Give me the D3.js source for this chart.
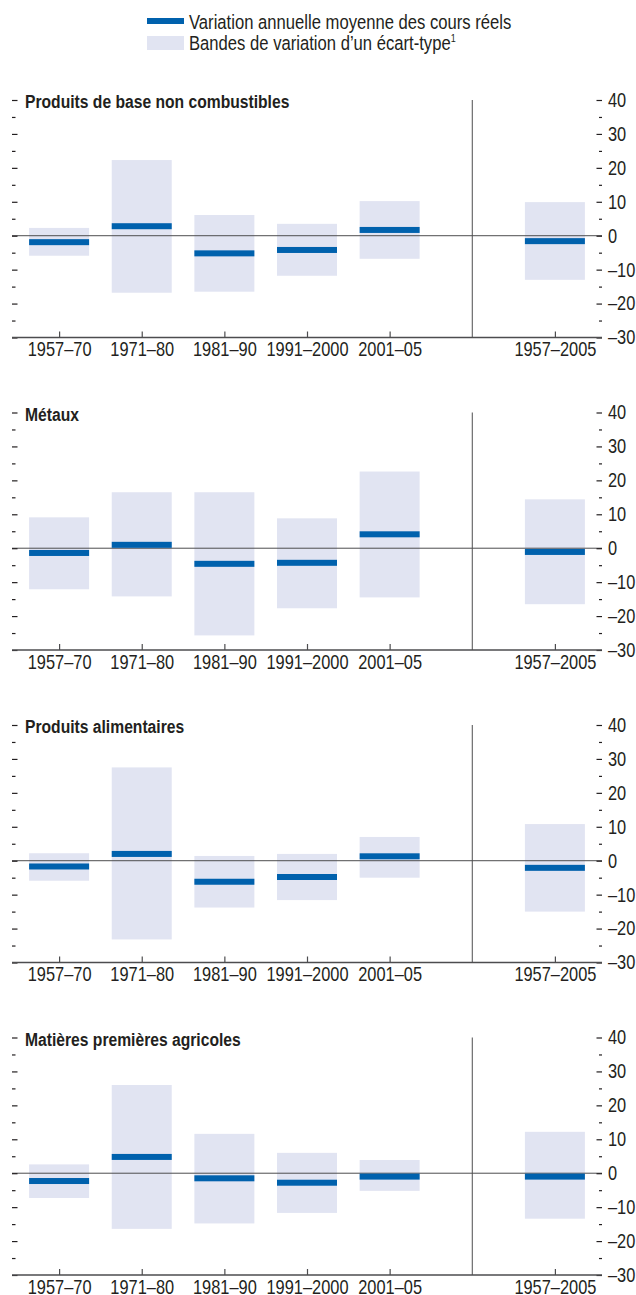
<!DOCTYPE html>
<html>
<head>
<meta charset="utf-8">
<script src="https://cdn.jsdelivr.net/npm/d3@7"></script>
<style>
  body { margin: 0; background: #fff; }
  svg { display: block; }
  text { font-family: "Liberation Sans", Arial, sans-serif; fill: #231f20; }
</style>
</head>
<body>
<svg id="chart" width="636" height="1295"></svg>
<script>
// ---- Data ----
const periods = ["1957–70", "1971–80", "1981–90", "1991–2000", "2001–05", "1957–2005"];
const slots = ["1957–70", "1971–80", "1981–90", "1991–2000", "2001–05", "sep", "1957–2005"];
const panelTitles = ["Produits de base non combustibles", "Métaux", "Produits alimentaires", "Matières premières agricoles"];

const meanNonFuel = [-1.9, 2.8, -5.2, -4.2, 1.7, -1.6];
const highNonFuel = [2.3, 22.3, 6.1, 3.5, 10.2, 9.9];
const lowNonFuel  = [-5.9, -16.8, -16.5, -11.8, -6.8, -13.0];

const meanMetals = [-1.4, 1.0, -4.6, -4.3, 4.1, -1.1];
const highMetals = [9.1, 16.5, 16.5, 8.8, 22.6, 14.4];
const lowMetals  = [-12.1, -14.2, -25.7, -17.7, -14.5, -16.5];

const meanFood = [-1.7, 2.0, -6.2, -4.8, 1.3, -2.1];
const highFood = [2.2, 27.5, 1.4, 2.0, 7.0, 10.8];
const lowFood  = [-5.9, -23.2, -13.8, -11.6, -5.0, -15.0];

const meanAgri = [-2.3, 4.8, -1.5, -2.8, -1.0, -1.0];
const highAgri = [2.6, 26.0, 11.6, 6.0, 3.9, 12.2];
const lowAgri  = [-7.3, -16.4, -14.8, -11.7, -5.2, -13.4];

const yMajorTicks = [40, 30, 20, 10, 0, -10, -20, -30];
const yMinorTicks = [35, 25, 15, 5, -5, -15, -25];
const yDomain = [-30, 40];

const legendLabels = ["Variation annuelle moyenne des cours réels", "Bandes de variation d’un écart-type"];

const panels = [
  { title: panelTitles[0], mean: meanNonFuel, high: highNonFuel, low: lowNonFuel },
  { title: panelTitles[1], mean: meanMetals, high: highMetals, low: lowMetals },
  { title: panelTitles[2], mean: meanFood, high: highFood, low: lowFood },
  { title: panelTitles[3], mean: meanAgri, high: highAgri, low: lowAgri }
];

// ---- Layout ----
const BLUE = "#0061ad";
const BAND = "#e1e4f2";
const AXIS = "#4d4d4f";
const NARROW = 0.82;
const svg = d3.select("#chart");

const x0 = 12, x1 = 602;
const firstTop = 100, panelStep = 312.5, panelH = 237.5;
const boxW = 60, barH = 6;

const x = d3.scalePoint().domain(slots).range([x0, x1]).padding(0.57);

// condense text horizontally (narrow face emulation)
function narrow(sel, sx) {
  sel.each(function () {
    const t = d3.select(this);
    const tx = +t.attr("x") || 0, ty = +t.attr("y") || 0;
    t.attr("x", 0).attr("y", 0).attr("transform", `translate(${tx},${ty}) scale(${sx},1)`);
  });
}

// Legend
const lg = svg.append("g");
lg.append("rect").attr("x", 147).attr("y", 18).attr("width", 37).attr("height", 6).attr("fill", BLUE);
lg.append("rect").attr("x", 147).attr("y", 36).attr("width", 37).attr("height", 14).attr("fill", BAND);
lg.append("text").attr("x", 189).attr("y", 29).attr("font-size", 20.3).text(legendLabels[0]);
const t2 = lg.append("text").attr("x", 189).attr("y", 50).attr("font-size", 20.3).text(legendLabels[1]);
t2.append("tspan").attr("font-size", 11).attr("dy", -8).text("1");
narrow(lg.selectAll("text"), NARROW);

panels.forEach((p, i) => {
  const top = firstTop + panelStep * i;
  const y = d3.scaleLinear().domain(yDomain).range([top + panelH, top]);
  const g = svg.append("g");

  // bands
  g.selectAll("rect.band").data(periods).join("rect")
    .attr("class", "band")
    .attr("x", d => x(d) - boxW / 2)
    .attr("width", boxW)
    .attr("y", (d, k) => y(p.high[k]))
    .attr("height", (d, k) => y(p.low[k]) - y(p.high[k]))
    .attr("fill", BAND);

  // zero line
  g.append("line").attr("x1", x0).attr("x2", x1).attr("y1", y(0)).attr("y2", y(0))
    .attr("stroke", AXIS).attr("stroke-width", 1);

  // divider
  g.append("line").attr("x1", x("sep")).attr("x2", x("sep"))
    .attr("y1", y(40)).attr("y2", y(-30)).attr("stroke", AXIS).attr("stroke-width", 1);

  // mean bars
  g.selectAll("rect.mean").data(periods).join("rect")
    .attr("class", "mean")
    .attr("x", d => x(d) - boxW / 2)
    .attr("width", boxW)
    .attr("y", (d, k) => y(p.mean[k]) - barH / 2)
    .attr("height", barH)
    .attr("fill", BLUE);

  // left axis (ticks only)
  const left = g.append("g").attr("transform", `translate(${x0},0)`)
    .call(d3.axisLeft(y).tickValues(yMajorTicks).tickSizeInner(-5.5).tickSizeOuter(0).tickFormat(""));
  left.select(".domain").remove();
  const leftMinor = g.append("g").attr("transform", `translate(${x0},0)`)
    .call(d3.axisLeft(y).tickValues(yMinorTicks).tickSizeInner(-3.5).tickSizeOuter(0).tickFormat(""));
  leftMinor.select(".domain").remove();

  // right axis
  const right = g.append("g").attr("transform", `translate(${x1},0)`)
    .call(d3.axisRight(y).tickValues(yMajorTicks).tickSizeInner(-5.5).tickSizeOuter(0).tickPadding(5)
      .tickFormat(d => d < 0 ? "–" + Math.abs(d) : d));
  right.select(".domain").remove();
  right.selectAll("text").attr("x", 6).attr("font-size", 20).attr("font-family", null).attr("fill", "#231f20");
  narrow(right.selectAll("text"), NARROW);
  const rightMinor = g.append("g").attr("transform", `translate(${x1},0)`)
    .call(d3.axisRight(y).tickValues(yMinorTicks).tickSizeInner(-3).tickSizeOuter(0).tickFormat(""));
  rightMinor.select(".domain").remove();

  [left, leftMinor, right, rightMinor].forEach(a => a.selectAll("line").attr("stroke", "#231f20").attr("stroke-width", 1.2));

  // bottom axis
  const bottom = g.append("g").attr("transform", `translate(0,${y(-30)})`)
    .call(d3.axisBottom(x).tickValues(periods).tickSizeInner(-6).tickSizeOuter(0).tickPadding(8));
  bottom.select(".domain").attr("d", `M${x0},0H${x1}`).attr("stroke", AXIS).attr("stroke-width", 1.6);
  bottom.selectAll("line").attr("stroke", AXIS).attr("stroke-width", 1.2);
  bottom.selectAll("text").attr("y", 18.5).attr("dy", null).attr("font-size", 20).attr("font-family", null).attr("fill", "#231f20");
  narrow(bottom.selectAll("text"), NARROW);

  // title
  const title = g.append("text").attr("x", 25).attr("y", top + 8).attr("font-size", 18).attr("font-weight", "bold").text(p.title);
  narrow(title, 0.87);
});
</script>
</body>
</html>
